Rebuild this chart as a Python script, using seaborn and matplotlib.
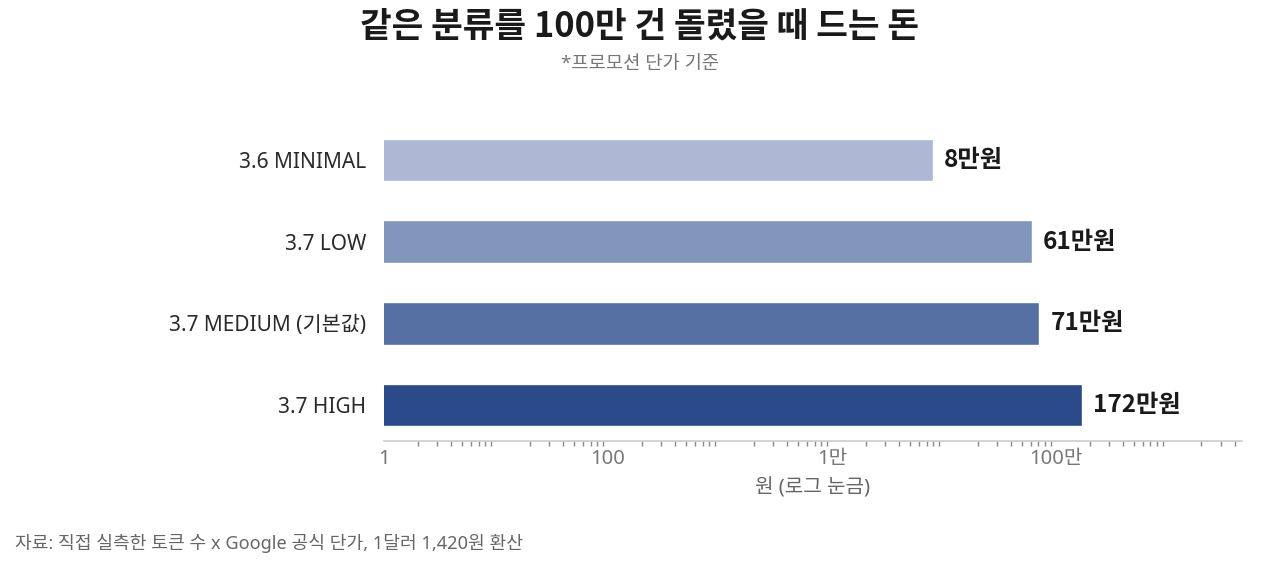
import matplotlib
matplotlib.use("Agg")
import matplotlib.pyplot as plt
import matplotlib.ticker as mticker
import seaborn as sns
import pandas as pd
import numpy as np

categories = ["3.6 MINIMAL", "3.7 LOW", "3.7 MEDIUM (기본값)", "3.7 HIGH"]
values_won = [80000, 610000, 710000, 1720000]
value_labels = ["8만원", "61만원", "71만원", "172만원"]
tick_values = [1, 100, 10000, 1000000]
tick_labels = ["1", "100", "1만", "100만"]
colors = ["#adb9d4", "#8296bc", "#5670a3", "#2b4a8a"]

sns.set_theme(style="white")
plt.rcParams["font.family"] = ["Noto Sans", "Noto Sans CJK KR", "DejaVu Sans"]
BOLD_FAMILY = ["Noto Sans CJK KR", "DejaVu Sans"]

df = pd.DataFrame({"cat": categories, "val": values_won})

fig = plt.figure(figsize=(12.8, 5.66), dpi=100)
ax = fig.add_axes([384 / 1280, 1 - 441 / 566, 858 / 1280, 322 / 566])

sns.barplot(data=df, y="cat", x="val", hue="cat", palette=colors, order=categories,
            hue_order=categories, orient="h", width=0.52, saturation=1, legend=False, ax=ax)
ax.set_xscale("log")
ax.set_xlim(1, 4.6e7)
ax.set_ylim(3.44, -0.5)

for i, (v, lab) in enumerate(zip(values_won, value_labels)):
    ax.annotate(lab, xy=(v, i), xytext=(8, 0), textcoords="offset points",
                ha="left", va="center", fontsize=17.5, fontweight="bold", color="#1a1a1a",
                family=BOLD_FAMILY)

ax.set_xticks(tick_values)
ax.set_xticklabels(tick_labels)
ax.xaxis.set_minor_locator(mticker.LogLocator(base=10, subs=np.arange(2, 10), numticks=100))
ax.xaxis.set_minor_formatter(mticker.NullFormatter())
ax.tick_params(axis="x", which="major", length=0, pad=6, labelsize=14.5, labelcolor="#777777")
ax.tick_params(axis="x", which="minor", length=3.5, width=1, color="#888888", direction="out", bottom=True)
ax.tick_params(axis="y", length=0, pad=13, labelsize=15, labelcolor="#2a2a2a")

for s in ["top", "right", "left"]:
    ax.spines[s].set_visible(False)
ax.spines["bottom"].set_color("#cccccc")
ax.spines["bottom"].set_linewidth(1.2)

ax.set_ylabel("")
ax.set_xlabel("원 (로그 눈금)", fontsize=14.5, color="#666666", labelpad=6)

fig.text(0.5, 1 - 26 / 566, "같은 분류를 100만 건 돌렸을 때 드는 돈", ha="center", va="center",
         fontsize=24.8, fontweight="bold", color="#1a1a1a", family=BOLD_FAMILY)
fig.text(0.5, 1 - 64 / 566, "*프로모션 단가 기준", ha="center", va="center",
         fontsize=13.5, color="#777777")
fig.text(15 / 1280, 1 - 543 / 566, "자료: 직접 실측한 토큰 수 x Google 공식 단가, 1달러 1,420원 환산",
         ha="left", va="center", fontsize=13.1, color="#666666")

fig.savefig("out.png", dpi=100, facecolor="white")
